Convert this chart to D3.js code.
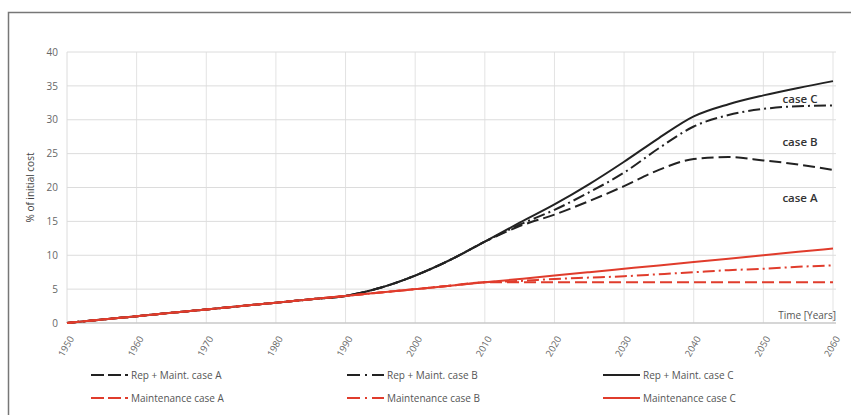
<!DOCTYPE html>
<html><head><meta charset="utf-8">
<script src="https://cdn.jsdelivr.net/npm/d3@7"></script>
<style>
body{margin:0;background:#fff;}
svg{display:block;font-family:"Open Sans",Lato,sans-serif;}
</style></head>
<body><svg id="chart" width="851" height="415"></svg>
<script>
const years = [1950,1955,1960,1965,1970,1975,1980,1985,1990,1995,2000,2005,2010,2015,2020,2025,2030,2035,2040,2045,2050,2055,2060];
const repMaintA = [0,0.5,1,1.5,2,2.5,3,3.5,4,5.2,7,9.3,12,14.3,16,18,20.2,22.6,24.2,24.5,24,23.4,22.6];
const repMaintB = [0,0.5,1,1.5,2,2.5,3,3.5,4,5.2,7,9.3,12,14.5,16.7,19.3,22.2,25.8,29,30.7,31.6,32,32.1];
const repMaintC = [0,0.5,1,1.5,2,2.5,3,3.5,4,5.2,7,9.3,12,14.8,17.5,20.5,23.8,27.3,30.5,32.3,33.6,34.7,35.7];
const maintA = [0,0.5,1,1.5,2,2.5,3,3.5,4,4.5,5,5.5,6,6,6,6,6,6,6,6,6,6,6];
const maintB = [0,0.5,1,1.5,2,2.5,3,3.5,4,4.5,5,5.5,6,6.2,6.5,6.7,6.9,7.2,7.5,7.8,8.0,8.3,8.5];
const maintC = [0,0.5,1,1.5,2,2.5,3,3.5,4,4.5,5,5.5,6,6.5,7,7.5,8,8.5,9,9.5,10,10.5,11];
const xTicks = [1950,1960,1970,1980,1990,2000,2010,2020,2030,2040,2050,2060];
const yTicks = [0,5,10,15,20,25,30,35,40];
const seriesNames = ["Rep + Maint. case A","Rep + Maint. case B","Rep + Maint. case C","Maintenance case A","Maintenance case B","Maintenance case C"];
const caseLabels = [{t:"case C",v:32.5},{t:"case B",v:26.1},{t:"case A",v:17.9}];

const BLACK="#222", RED="#e03c2c";
const DASH="12,5", DASHDOT="12,4,2,4";
const series = [
  {name:seriesNames[0], values:repMaintA, color:BLACK, dash:DASH},
  {name:seriesNames[1], values:repMaintB, color:BLACK, dash:DASHDOT},
  {name:seriesNames[2], values:repMaintC, color:BLACK, dash:null},
  {name:seriesNames[3], values:maintA, color:RED, dash:DASH},
  {name:seriesNames[4], values:maintB, color:RED, dash:DASHDOT},
  {name:seriesNames[5], values:maintC, color:RED, dash:null}
];

const svg = d3.select("#chart");
// frame
svg.append("path").attr("d","M8.5,415 V12.5 H851").attr("fill","none").attr("stroke","#777").attr("stroke-width",1.5);

const x = d3.scaleLinear().domain([1950,2060]).range([67,833]);
const y = d3.scaleLinear().domain([0,40]).range([323,52]);

const g = svg.append("g");
// gridlines
g.append("g").selectAll("line").data(xTicks.slice(1)).join("line")
  .attr("x1",d=>x(d)).attr("x2",d=>x(d)).attr("y1",y(40)).attr("y2",y(0))
  .attr("stroke","#e3e3e3").attr("stroke-width",1);
g.append("g").selectAll("line").data(yTicks).join("line")
  .attr("x1",x(1950)).attr("x2",x(2060)+3).attr("y1",d=>y(d)).attr("y2",d=>y(d))
  .attr("stroke",d=>d===0?"#c8c8c8":"#dcdcdc").attr("stroke-width",d=>d===0?1.5:1);
g.append("line").attr("x1",x(1950)).attr("x2",x(1950)).attr("y1",y(40)).attr("y2",y(0)).attr("stroke","#dcdcdc");

// y axis labels
const yAxis = d3.axisLeft(y).tickValues(yTicks).tickSize(0).tickPadding(9);
g.append("g").attr("transform",`translate(${x(1950)},0)`).call(yAxis)
  .call(s=>s.select(".domain").remove())
  .call(s=>s.selectAll("text").attr("fill","#666").style("font-size","10px").style("font-family","'Open Sans',sans-serif"));

// x axis labels
const xAxis = d3.axisBottom(x).tickValues(xTicks).tickFormat(d3.format("d")).tickSize(0);
g.append("g").attr("transform",`translate(0,${y(0)})`).call(xAxis)
  .call(s=>s.select(".domain").remove())
  .call(s=>s.selectAll("text").attr("fill","#666").style("font-size","9.5px").style("font-family","'Open Sans',sans-serif")
    .attr("text-anchor","end").attr("dy","0.35em").attr("transform","translate(4,14) rotate(-60)").attr("x",0).attr("y",0));

// y axis title
svg.append("text").attr("transform",`translate(34,${y(20)}) rotate(-90)`).attr("text-anchor","middle")
  .attr("fill","#444").style("font-size","10px").text("% of initial cost");
// x axis title
svg.append("text").attr("x",836).attr("y",319).attr("text-anchor","end").attr("fill","#555").style("font-size","10px").text("Time [Years]");

// lines
const line = d3.line().x((d,i)=>x(years[i])).y(d=>y(d)).curve(d3.curveMonotoneX);
g.append("g").selectAll("path").data(series).join("path")
  .attr("d",d=>line(d.values)).attr("fill","none").attr("stroke",d=>d.color).attr("stroke-width",2)
  .attr("stroke-dasharray",d=>d.dash);

// case labels
g.append("g").selectAll("text").data(caseLabels).join("text")
  .attr("x",800).attr("y",d=>y(d.v)).attr("text-anchor","middle").attr("fill","#333")
  .style("font-size","11.5px").style("font-weight","600").text(d=>d.t);

// legend
const legendPos = [
  {lx:91, ly:375},{lx:347, ly:375},{lx:603, ly:375},
  {lx:91, ly:398},{lx:347, ly:398},{lx:603, ly:398}
];
const lg = svg.append("g").selectAll("g").data(series).join("g")
  .attr("transform",(d,i)=>`translate(${legendPos[i].lx},${legendPos[i].ly})`);
lg.append("line").attr("x1",0).attr("x2",37).attr("y1",0).attr("y2",0)
  .attr("stroke",d=>d.color).attr("stroke-width",2).attr("stroke-dasharray",d=>d.dash?(d.dash===DASH?"13,4":"13,5,2,5"):null);
lg.append("text").attr("x",40).attr("y",0).attr("dy","0.35em").attr("fill","#555").style("font-size","10px").text(d=>d.name);
</script></body></html>
